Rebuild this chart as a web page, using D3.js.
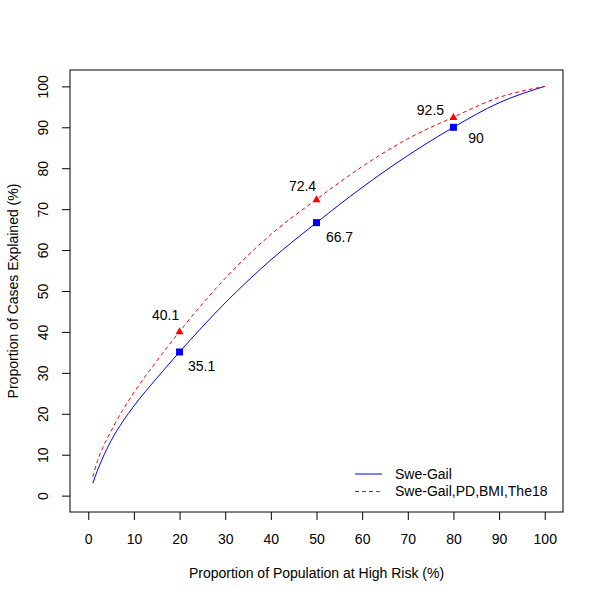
<!DOCTYPE html>
<html>
<head>
<meta charset="utf-8">
<script src="https://cdn.jsdelivr.net/npm/d3@7"></script>
<style>
body { margin: 0; background: #fff; }
text { font-family: "Liberation Sans", Arial, Helvetica, sans-serif; }
</style>
</head>
<body>
<svg id="chart" width="600" height="600"></svg>
<script>
// Data
const popPct = [1, 2, 3, 5, 7.5, 10, 15, 20, 30, 40, 50, 60, 70, 80, 90, 100];
const sweGail = [3, 6.1, 8.8, 13.4, 18.0, 21.9, 28.7, 35.1, 47.1, 57.6, 66.7, 75.3, 83.1, 90, 96, 100];
const sweGailPlus = [4.6, 8.4, 11.3, 15.8, 20.8, 25.2, 32.9, 40.1, 53.1, 63.8, 72.4, 80.4, 87.2, 92.5, 97.3, 100];
const markX = [20, 50, 80];
const markBlue = [35.1, 66.7, 90];
const markRed = [40.1, 72.4, 92.5];
const xTicks = [0, 10, 20, 30, 40, 50, 60, 70, 80, 90, 100];
const yTicks = [0, 10, 20, 30, 40, 50, 60, 70, 80, 90, 100];
const seriesNames = ["Swe-Gail", "Swe-Gail,PD,BMI,The18"];
const xTitle = "Proportion of Population at High Risk (%)";
const yTitle = "Proportion of Cases Explained (%)";

(function () {
const svg = d3.select("#chart");
const mLeft = 70, mRight = 563, mTop = 70, mBottom = 512;
const x = d3.scaleLinear().domain([-4, 104]).range([mLeft, mRight]);
const y = d3.scaleLinear().domain([-4, 104]).range([mBottom, mTop]);
const blue = "#0000FF", red = "#FF0000";
const fs = 14;
const dash = "4,3";

// axes
const xAxis = svg.append("g").attr("transform", `translate(0,${mBottom})`)
  .call(d3.axisBottom(x).tickValues(xTicks).tickSize(8).tickPadding(14).tickFormat(d3.format("d")));
xAxis.select(".domain").remove();
xAxis.selectAll("text").attr("font-size", fs).attr("fill", "#000").attr("font-family", "Liberation Sans, Arial, sans-serif");
xAxis.selectAll("line").attr("stroke", "#000");

const yAxis = svg.append("g").attr("transform", `translate(${mLeft},0)`)
  .call(d3.axisLeft(y).tickValues(yTicks).tickSize(8).tickFormat(d3.format("d")));
yAxis.select(".domain").remove();
yAxis.selectAll("line").attr("stroke", "#000");
yAxis.selectAll("text").remove();
yAxis.selectAll(".tick").append("text")
  .attr("transform", "translate(-26.5,0) rotate(-90)")
  .attr("text-anchor", "middle")
  .attr("dy", "0.35em")
  .attr("font-size", fs)
  .attr("fill", "#000")
  .text(d => d);

// box
svg.append("rect").attr("x", mLeft).attr("y", mTop).attr("width", mRight - mLeft).attr("height", mBottom - mTop)
  .attr("fill", "none").attr("stroke", "#000").attr("stroke-width", 1);

// titles
svg.append("text").attr("x", (mLeft + mRight) / 2).attr("y", 573).attr("dy", "0.35em")
  .attr("text-anchor", "middle").attr("font-size", fs).text(xTitle);
svg.append("text").attr("transform", `translate(13,${(mTop + mBottom) / 2}) rotate(-90)`)
  .attr("dy", "0.35em").attr("text-anchor", "middle").attr("font-size", fs).text(yTitle);

// lines
const line = d3.line().x(d => x(d[0])).y(d => y(d[1])).curve(d3.curveMonotoneX);
svg.append("path").datum(popPct.map((p, i) => [p, sweGail[i]]))
  .attr("d", line).attr("fill", "none").attr("stroke", blue).attr("stroke-width", 1);
svg.append("path").datum(popPct.map((p, i) => [p, sweGailPlus[i]]))
  .attr("d", line).attr("fill", "none").attr("stroke", red).attr("stroke-width", 1)
  .attr("stroke-dasharray", dash);

// markers
const sq = 7;
svg.selectAll(".sq").data(markX).enter().append("rect")
  .attr("x", (d) => x(d) - sq / 2).attr("y", (d, i) => y(markBlue[i]) - sq / 2)
  .attr("width", sq).attr("height", sq).attr("fill", blue);
const tri = d3.symbol().type(d3.symbolTriangle).size(28);
svg.selectAll(".tri").data(markX).enter().append("path")
  .attr("d", tri).attr("transform", (d, i) => `translate(${x(d)},${y(markRed[i]) + 0.5})`)
  .attr("fill", red);

// value labels
const blueOff = [[22, 14], [23, 14], [22.5, 11]];
const redOff = [[-14, -16], [-14, -13], [-23, -7]];
markX.forEach((d, i) => {
  svg.append("text").attr("x", x(d) + blueOff[i][0]).attr("y", y(markBlue[i]) + blueOff[i][1])
    .attr("dy", "0.35em").attr("text-anchor", "middle").attr("font-size", fs).text(markBlue[i]);
  svg.append("text").attr("x", x(d) + redOff[i][0]).attr("y", y(markRed[i]) + redOff[i][1])
    .attr("dy", "0.35em").attr("text-anchor", "middle").attr("font-size", fs).text(markRed[i]);
});

// legend
const lg = svg.append("g");
const colors = [blue, red];
seriesNames.forEach((n, i) => {
  const ly = 474 + i * 17.5;
  lg.append("line").attr("x1", 355).attr("x2", 382).attr("y1", ly).attr("y2", ly)
    .attr("stroke", colors[i]).attr("stroke-width", 1)
    .attr("stroke-dasharray", i === 1 ? dash : null);
  lg.append("text").attr("x", 395).attr("y", ly).attr("dy", "0.35em").attr("font-size", fs).text(n);
});
})();
</script>
</body>
</html>
